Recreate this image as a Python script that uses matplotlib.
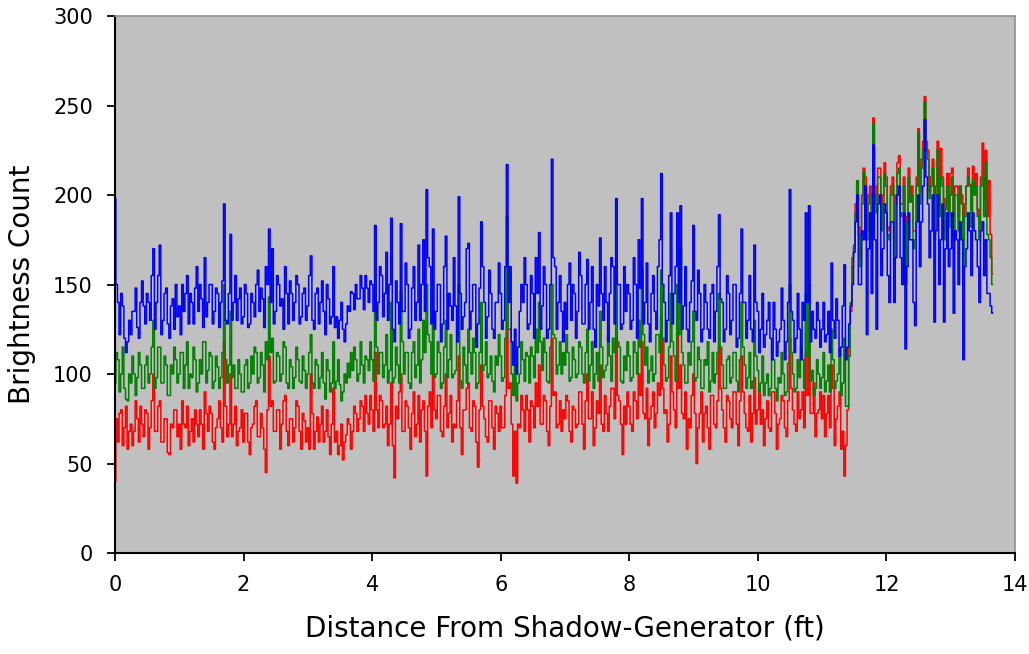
import numpy as np
import matplotlib
matplotlib.use("Agg")
import matplotlib.pyplot as plt

# readings every 0.025 ft, taken off the chart (40 values per foot)
step = 0.025

blue = [
    198, 150, 140, 122, 145, 138, 120, 112, 118, 130, 122, 135, 135, 148, 126, 120, 140, 152, 138, 128,
    145, 140, 130, 155, 170, 125, 140, 155, 172, 122, 130, 145, 148, 128, 120, 138, 142, 125, 150, 132,
    138, 122, 150, 135, 145, 155, 128, 145, 140, 128, 148, 160, 135, 150, 142, 126, 165, 132, 140, 150,
    150, 128, 135, 148, 145, 126, 140, 152, 195, 130, 128, 145, 178, 130, 140, 155, 130, 142, 148, 128,
    132, 150, 145, 126, 128, 145, 140, 132, 150, 158, 135, 148, 142, 126, 160, 150, 181, 140, 170, 128,
    135, 155, 150, 138, 142, 125, 160, 145, 128, 152, 145, 130, 140, 155, 150, 128, 132, 145, 148, 130,
    138, 155, 166, 130, 125, 145, 148, 128, 140, 152, 135, 122, 150, 142, 128, 132, 160, 126, 132, 120,
    130, 140, 125, 118, 128, 138, 135, 146, 145, 136, 150, 142, 142, 155, 148, 136, 155, 148, 140, 152,
    150, 135, 183, 130, 140, 160, 155, 132, 145, 168, 130, 150, 187, 125, 118, 152, 140, 128, 184, 135,
    135, 162, 150, 120, 125, 148, 160, 130, 140, 172, 130, 150, 175, 135, 203, 165, 160, 128, 181, 125,
    135, 150, 150, 118, 128, 160, 177, 125, 145, 138, 130, 165, 138, 118, 199, 145, 125, 132, 140, 170,
    173, 125, 135, 150, 150, 115, 128, 148, 185, 160, 140, 120, 132, 158, 145, 125, 120, 140, 140, 162,
    145, 125, 130, 160, 217, 140, 160, 118, 105, 125, 100, 115, 135, 150, 140, 165, 150, 125, 128, 155,
    145, 120, 165, 145, 179, 125, 138, 160, 150, 120, 125, 150, 220, 165, 160, 125, 140, 155, 135, 118,
    140, 125, 150, 162, 130, 150, 145, 120, 135, 168, 155, 128, 128, 150, 164, 125, 140, 160, 125, 115,
    150, 138, 176, 145, 130, 160, 140, 118, 145, 165, 160, 128, 198, 150, 150, 125, 128, 160, 135, 150,
    145, 125, 130, 165, 150, 120, 175, 148, 198, 128, 140, 162, 128, 118, 145, 155, 135, 125, 160, 175,
    212, 150, 140, 118, 130, 155, 190, 128, 145, 160, 190, 140, 194, 125, 138, 160, 125, 118, 140, 152,
    183, 135, 130, 158, 145, 118, 125, 150, 140, 125, 120, 145, 150, 118, 135, 160, 189, 142, 140, 118,
    125, 155, 145, 122, 130, 150, 150, 115, 120, 145, 181, 140, 140, 120, 130, 155, 125, 118, 172, 140,
    135, 112, 125, 145, 115, 122, 130, 140, 120, 108, 140, 125, 110, 118, 125, 148, 130, 108, 118, 140,
    203, 135, 130, 112, 120, 145, 125, 108, 140, 130, 190, 140, 194, 118, 135, 125, 120, 140, 130, 115,
    125, 140, 118, 122, 135, 112, 162, 130, 120, 142, 130, 110, 115, 138, 161, 108, 115, 128, 138, 150,
    168, 185, 200, 150, 150, 180, 175, 205, 122, 170, 190, 145, 228, 175, 125, 195, 200, 155, 170, 195,
    190, 155, 140, 185, 185, 140, 165, 200, 205, 165, 150, 190, 114, 160, 190, 175, 175, 140, 127, 185,
    200, 160, 185, 205, 242, 210, 195, 165, 180, 200, 129, 180, 200, 150, 175, 195, 129, 170, 190, 160,
    170, 190, 134, 180, 175, 150, 185, 175, 108, 160, 170, 190, 180, 155, 190, 180, 175, 160, 140, 180,
    185, 155, 175, 145, 145, 138, 134,
]

green = [
    95, 112, 108, 90, 100, 115, 92, 86, 85, 100, 95, 110, 100, 88, 98, 112, 105, 92, 92, 105,
    110, 95, 100, 115, 130, 92, 98, 115, 115, 95, 95, 110, 105, 88, 88, 105, 100, 115, 108, 95,
    100, 112, 112, 92, 105, 118, 92, 100, 98, 115, 108, 90, 95, 108, 100, 118, 118, 95, 102, 112,
    110, 92, 96, 110, 104, 92, 98, 112, 150, 108, 95, 105, 135, 98, 105, 92, 92, 108, 100, 90,
    90, 105, 108, 92, 95, 110, 100, 115, 112, 95, 98, 112, 105, 90, 118, 108, 143, 112, 120, 95,
    96, 112, 110, 96, 100, 118, 115, 95, 92, 108, 104, 92, 98, 115, 108, 96, 95, 110, 102, 92,
    100, 112, 122, 95, 92, 108, 105, 92, 98, 112, 95, 86, 108, 102, 90, 95, 118, 92, 96, 108,
    94, 85, 90, 100, 95, 106, 98, 112, 102, 115, 108, 96, 100, 118, 105, 95, 110, 108, 102, 118,
    108, 96, 145, 115, 100, 112, 112, 98, 105, 122, 95, 102, 140, 95, 98, 115, 105, 95, 146, 118,
    100, 112, 112, 95, 92, 112, 118, 98, 105, 125, 95, 108, 130, 112, 150, 122, 118, 100, 135, 98,
    100, 118, 112, 92, 95, 115, 130, 98, 108, 122, 98, 100, 102, 118, 150, 96, 92, 115, 105, 95,
    125, 112, 100, 120, 112, 92, 95, 112, 140, 102, 105, 118, 98, 100, 110, 96, 90, 110, 105, 122,
    110, 96, 98, 120, 188, 125, 125, 100, 88, 105, 85, 95, 100, 118, 108, 96, 112, 110, 95, 115,
    110, 98, 125, 112, 140, 118, 102, 120, 112, 96, 95, 115, 150, 122, 120, 100, 105, 118, 100, 112,
    105, 122, 112, 96, 98, 115, 108, 98, 100, 118, 115, 100, 95, 112, 125, 96, 105, 118, 92, 100,
    112, 96, 135, 115, 98, 102, 105, 122, 110, 96, 120, 112, 155, 118, 115, 96, 95, 110, 102, 118,
    110, 96, 98, 118, 112, 100, 130, 115, 158, 122, 105, 115, 95, 102, 110, 96, 100, 122, 122, 112,
    158, 120, 105, 96, 98, 115, 145, 118, 110, 96, 150, 122, 171, 112, 105, 95, 95, 112, 105, 118,
    135, 96, 98, 115, 108, 92, 92, 108, 105, 118, 90, 96, 112, 95, 100, 112, 145, 115, 105, 92,
    92, 108, 110, 95, 98, 112, 112, 96, 90, 108, 140, 115, 105, 92, 98, 112, 92, 96, 130, 110,
    102, 90, 95, 110, 88, 95, 100, 88, 92, 108, 108, 92, 85, 98, 95, 112, 100, 88, 90, 106,
    150, 112, 100, 90, 92, 108, 98, 115, 108, 92, 145, 110, 150, 96, 102, 88, 92, 108, 100, 92,
    98, 112, 90, 96, 105, 90, 125, 108, 92, 96, 100, 114, 88, 95, 120, 82, 82, 110, 140, 165,
    170, 190, 208, 178, 160, 195, 213, 205, 175, 195, 200, 178, 240, 200, 190, 210, 210, 180, 195, 212,
    205, 178, 175, 200, 205, 165, 195, 212, 215, 188, 190, 205, 150, 185, 210, 196, 200, 170, 175, 205,
    235, 195, 215, 225, 252, 225, 220, 198, 205, 215, 175, 200, 225, 188, 210, 205, 175, 192, 205, 182,
    200, 210, 175, 200, 200, 180, 205, 195, 160, 188, 205, 210, 205, 182, 208, 200, 205, 188, 175, 205,
    210, 188, 218, 178, 175, 165, 150,
]

red = [
    40, 75, 62, 78, 80, 60, 70, 82, 58, 68, 72, 60, 68, 85, 75, 62, 82, 72, 65, 80,
    78, 58, 70, 85, 100, 68, 68, 82, 85, 62, 62, 75, 75, 56, 55, 72, 70, 80, 80, 65,
    72, 58, 85, 72, 70, 82, 60, 68, 75, 62, 80, 72, 65, 80, 72, 58, 90, 78, 68, 82,
    78, 62, 58, 70, 75, 85, 70, 62, 118, 82, 65, 72, 100, 65, 72, 82, 60, 68, 70, 80,
    62, 78, 78, 62, 55, 70, 72, 82, 85, 65, 65, 78, 70, 58, 45, 80, 110, 82, 85, 68,
    68, 80, 80, 58, 72, 85, 88, 68, 60, 75, 75, 62, 70, 85, 82, 68, 58, 78, 74, 62,
    70, 58, 100, 78, 58, 68, 76, 62, 72, 82, 62, 68, 80, 65, 55, 72, 92, 62, 68, 55,
    60, 72, 52, 62, 66, 75, 72, 58, 68, 82, 78, 68, 75, 85, 82, 68, 88, 78, 72, 88,
    80, 68, 112, 80, 70, 88, 85, 70, 72, 82, 60, 72, 95, 60, 42, 82, 75, 90, 100, 68,
    68, 85, 82, 70, 58, 78, 90, 65, 72, 88, 62, 80, 85, 68, 43, 82, 90, 70, 100, 80,
    75, 88, 88, 68, 65, 82, 100, 70, 78, 88, 62, 72, 70, 85, 110, 70, 55, 80, 80, 92,
    95, 70, 68, 85, 82, 62, 48, 80, 105, 82, 75, 65, 62, 85, 85, 70, 58, 82, 78, 68,
    82, 70, 70, 88, 160, 92, 95, 72, 43, 68, 39, 72, 70, 88, 80, 68, 88, 80, 62, 85,
    82, 70, 95, 82, 105, 72, 72, 88, 85, 68, 60, 82, 120, 88, 90, 70, 72, 85, 68, 80,
    75, 88, 85, 68, 62, 82, 80, 70, 72, 90, 90, 72, 58, 85, 100, 75, 75, 90, 60, 70,
    85, 78, 105, 72, 68, 88, 78, 68, 82, 92, 92, 75, 120, 88, 85, 72, 55, 82, 72, 90,
    82, 72, 68, 90, 85, 75, 100, 88, 118, 78, 75, 92, 60, 75, 82, 90, 70, 78, 95, 88,
    132, 92, 78, 80, 62, 72, 110, 90, 80, 70, 147, 92, 105, 78, 75, 90, 58, 75, 70, 88,
    100, 78, 50, 70, 78, 90, 62, 78, 82, 70, 58, 88, 88, 72, 70, 85, 115, 92, 80, 70,
    62, 88, 85, 75, 70, 90, 90, 72, 60, 85, 110, 90, 78, 70, 68, 88, 62, 78, 98, 72,
    80, 92, 72, 80, 60, 75, 85, 70, 68, 90, 90, 78, 58, 72, 75, 88, 85, 70, 65, 85,
    120, 92, 80, 72, 68, 90, 75, 80, 90, 70, 112, 88, 118, 78, 78, 95, 65, 78, 80, 90,
    75, 88, 65, 78, 88, 70, 105, 92, 60, 75, 82, 90, 58, 68, 43, 60, 80, 125, 135, 160,
    172, 195, 208, 182, 165, 200, 215, 210, 180, 200, 205, 182, 243, 205, 195, 215, 215, 188, 200, 218,
    210, 182, 180, 205, 210, 175, 200, 218, 222, 195, 195, 210, 150, 188, 215, 200, 205, 180, 180, 210,
    237, 202, 220, 230, 255, 230, 225, 202, 210, 220, 178, 205, 230, 195, 226, 210, 178, 198, 212, 188,
    212, 215, 178, 205, 205, 188, 205, 200, 184, 195, 205, 215, 206, 188, 216, 205, 212, 192, 180, 210,
    229, 198, 225, 188, 208, 178, 156,
]

fig = plt.figure(figsize=(10.29, 6.54), dpi=100)
ax = fig.add_axes([0.1118, 0.1544, 0.8746, 0.8211])
ax.set_facecolor("#c0c0c0")

for vals, col in [(red, "#ff0000"), (green, "#008000"), (blue, "#0000ff")]:
    dist = np.arange(len(vals)) * step
    ax.plot(dist, vals, color=col, lw=1.1, drawstyle="steps-mid")

ax.set_xlim(0, 14)
ax.set_ylim(0, 300)
ax.set_xticks(range(0, 15, 2))
ax.set_yticks(range(0, 301, 50))
ax.tick_params(direction="out", length=6, width=1.3, labelsize=15, pad=10)

for s in ["left", "bottom"]:
    ax.spines[s].set_color("black")
    ax.spines[s].set_linewidth(1.5)
for s in ["top", "right"]:
    ax.spines[s].set_color("#909090")
    ax.spines[s].set_linewidth(1.2)

ax.set_xlabel("Distance From Shadow-Generator (ft)", fontsize=20, labelpad=14)
ax.set_ylabel("Brightness Count", fontsize=20, labelpad=12)

fig.savefig("out.png", dpi=100)
